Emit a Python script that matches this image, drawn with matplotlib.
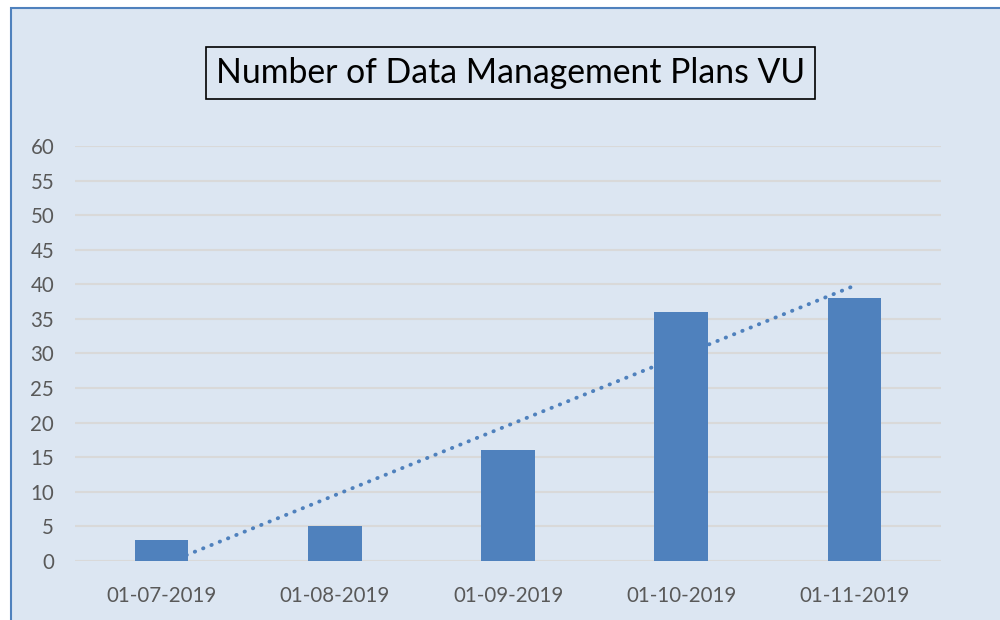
import numpy as np
import matplotlib
matplotlib.use("Agg")
import matplotlib.pyplot as plt
from matplotlib.patches import Rectangle

categories = ["01-07-2019", "01-08-2019", "01-09-2019", "01-10-2019", "01-11-2019"]
plans = [3, 5, 16, 36, 38]
yticks = list(range(0, 65, 5))

bg = "#dce6f2"
blue = "#4f81bd"
grey = "#595959"

plt.rcParams['font.family'] = ['Lato', 'DejaVu Sans']

fig = plt.figure(figsize=(10, 6.2), dpi=100)
fig.patch.set_facecolor("white")

# chart frame (only left and top edges visible in the crop)
frame = Rectangle((0.0105, -0.1), 1.2, 1.1 - 7.5 / 620, transform=fig.transFigure,
                  facecolor=bg, edgecolor=blue, linewidth=1.5, zorder=-5)
fig.patches.append(frame)

ax = fig.add_axes([0.075, 0.0952, 0.866, 0.6693])
ax.set_facecolor("none")

x = np.arange(len(categories))

# linear trendline, drawn behind the bars
coef = np.polyfit(x, plans, 1)
ax.plot(x, np.polyval(coef, x), linestyle=(0, (0.1, 2.2)), color=blue, linewidth=2.8,
        dash_capstyle="round", zorder=2)

ax.bar(x, plans, width=0.31, color=blue, zorder=3)

ax.set_xlim(-0.5, len(categories) - 0.5)
ax.set_ylim(0, 60)
ax.set_yticks(yticks)
ax.set_xticks(x)
ax.set_xticklabels(categories)
ax.grid(axis="y", color="#d9d9d9", linewidth=1.5, zorder=1)
ax.set_axisbelow(True)
for s in ax.spines.values():
    s.set_visible(False)
ax.tick_params(length=0, labelsize=14.8, colors=grey)
ax.tick_params(axis="x", pad=18)
ax.tick_params(axis="y", pad=15)

fig.text(0.5105, 0.882, "Number of Data Management Plans VU", ha="center", va="center",
         fontsize=24.3, color="black",
         bbox=dict(boxstyle="square,pad=0.3", facecolor=bg, edgecolor="black", linewidth=1.2))

fig.savefig("out.png", dpi=100, facecolor=fig.get_facecolor())
